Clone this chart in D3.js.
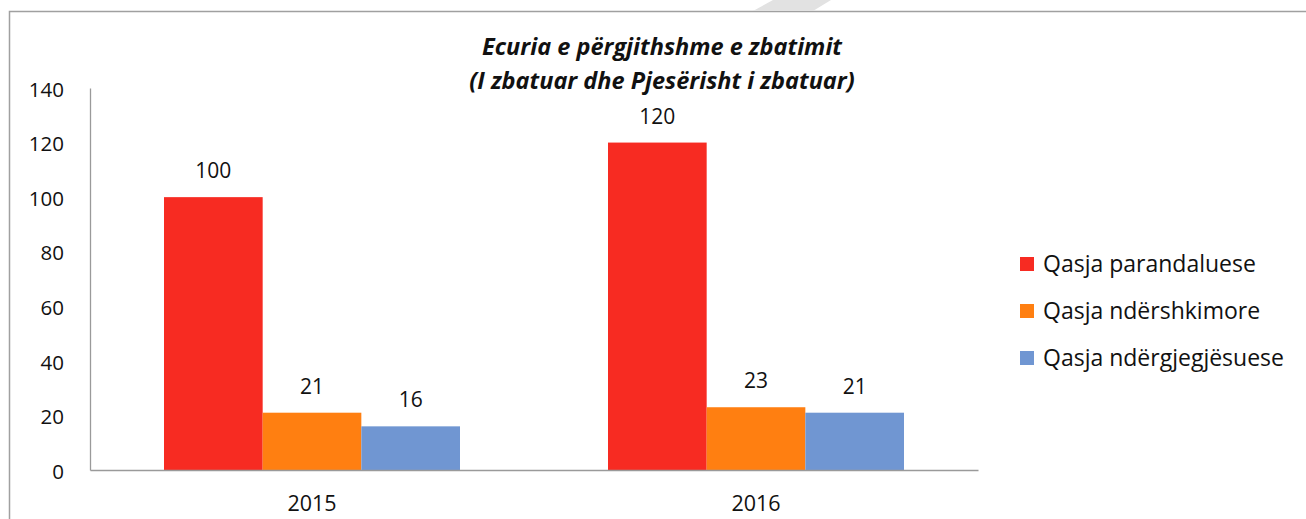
<!DOCTYPE html>
<html>
<head>
<meta charset="utf-8">
<script src="https://cdn.jsdelivr.net/npm/d3@7"></script>
<style>
  body { margin: 0; background: #fff; }
  svg { display: block; }
  svg text { font-family: "Open Sans", Lato, sans-serif; }
</style>
</head>
<body>
<svg id="chart" width="1306" height="519"></svg>
<script>
// data
const years = ["2015", "2016"];
const seriesNames = ["Qasja parandaluese", "Qasja ndërshkimore", "Qasja ndërgjegjësuese"];
const parandaluese = [100, 120];
const nderSHkimore = [21, 23];
const ndergjegjesuese = [16, 21];
const yTicks = [0, 20, 40, 60, 80, 100, 120, 140];
const titleLines = ["Ecuria e përgjithshme e zbatimit", "(I zbatuar dhe Pjesërisht i zbatuar)"];

const colors = ["#f72b22", "#ff7f11", "#7096d2"];
const seriesValues = [parandaluese, nderSHkimore, ndergjegjesuese];

const rows = years.map((yr, i) => ({
    year: yr,
    values: seriesNames.map((s, j) => ({ key: s, idx: j, value: seriesValues[j][i] }))
}));

const svg = d3.select("#chart");

// outer frame (top + left edges visible)
svg.append("path")
    .attr("d", "M9.5,519 V11.5 H1306")
    .attr("fill", "none")
    .attr("stroke", "#a0a0a0")
    .attr("stroke-width", 1.5);

// light grey stroke at the top edge
svg.append("polygon")
    .attr("points", "773,0 831,0 813,11 753,11")
    .attr("fill", "#e2e2e2");

const margin = { top: 88, left: 90, right: 328, bottom: 49 };
const width = 1306 - margin.left - margin.right;
const height = 519 - margin.top - margin.bottom;

const g = svg.append("g").attr("transform", `translate(${margin.left},${margin.top})`);

const x0 = d3.scaleBand().domain(years).range([0, width]).paddingInner(1 / 3).paddingOuter(1 / 6);
const x1 = d3.scaleBand().domain(seriesNames).range([0, x0.bandwidth()]);
const y = d3.scaleLinear().domain([0, 140]).range([height, 0]);

// y axis
const gy = g.append("g")
    .call(d3.axisLeft(y).tickValues(yTicks).tickSize(0).tickPadding(26));
gy.select(".domain").attr("stroke", "#9a9a9a").attr("stroke-width", 1.3);
gy.selectAll("text").attr("font-size", 20.5).attr("fill", "#111").attr("dy", "0.4em");

// bars
const groups = g.selectAll(".grp")
    .data(rows)
    .join("g")
    .attr("class", "grp")
    .attr("transform", d => `translate(${x0(d.year)},0)`);

groups.selectAll("rect")
    .data(d => d.values)
    .join("rect")
    .attr("x", d => x1(d.key))
    .attr("y", d => y(d.value))
    .attr("width", x1.bandwidth())
    .attr("height", d => height - y(d.value))
    .attr("fill", d => colors[d.idx]);

groups.selectAll(".lbl")
    .data(d => d.values)
    .join("text")
    .attr("class", "lbl")
    .attr("x", d => x1(d.key) + x1.bandwidth() / 2)
    .attr("y", d => y(d.value) - 19)
    .attr("text-anchor", "middle")
    .attr("font-size", 21)
    .attr("fill", "#111")
    .text(d => d.value);

// x axis
const gx = g.append("g")
    .attr("transform", `translate(0,${height})`)
    .call(d3.axisBottom(x0).tickSize(0).tickPadding(26).tickSizeOuter(0));
gx.select(".domain").attr("stroke", "#9a9a9a").attr("stroke-width", 1.3);
gx.selectAll("text").attr("font-size", 21.5).attr("fill", "#111");

// title
svg.append("text")
    .attr("x", 662)
    .attr("y", 55)
    .attr("text-anchor", "middle")
    .attr("font-size", 23.5)
    .attr("font-weight", "bold")
    .attr("font-style", "italic")
    .attr("fill", "#111")
    .selectAll("tspan")
    .data(titleLines)
    .join("tspan")
    .attr("x", 662)
    .attr("dy", (d, i) => i === 0 ? 0 : 34)
    .text(d => d);

// legend
const legend = svg.append("g").attr("transform", "translate(1020,264)");
const items = legend.selectAll("g")
    .data(seriesNames)
    .join("g")
    .attr("transform", (d, i) => `translate(0,${i * 47})`);
items.append("rect")
    .attr("x", 0)
    .attr("y", -7)
    .attr("width", 14)
    .attr("height", 14)
    .attr("fill", (d, i) => colors[i]);
items.append("text")
    .attr("x", 23)
    .attr("y", 0)
    .attr("dy", "0.36em")
    .attr("font-size", 23)
    .attr("fill", "#111")
    .text(d => d);
</script>
</body>
</html>
